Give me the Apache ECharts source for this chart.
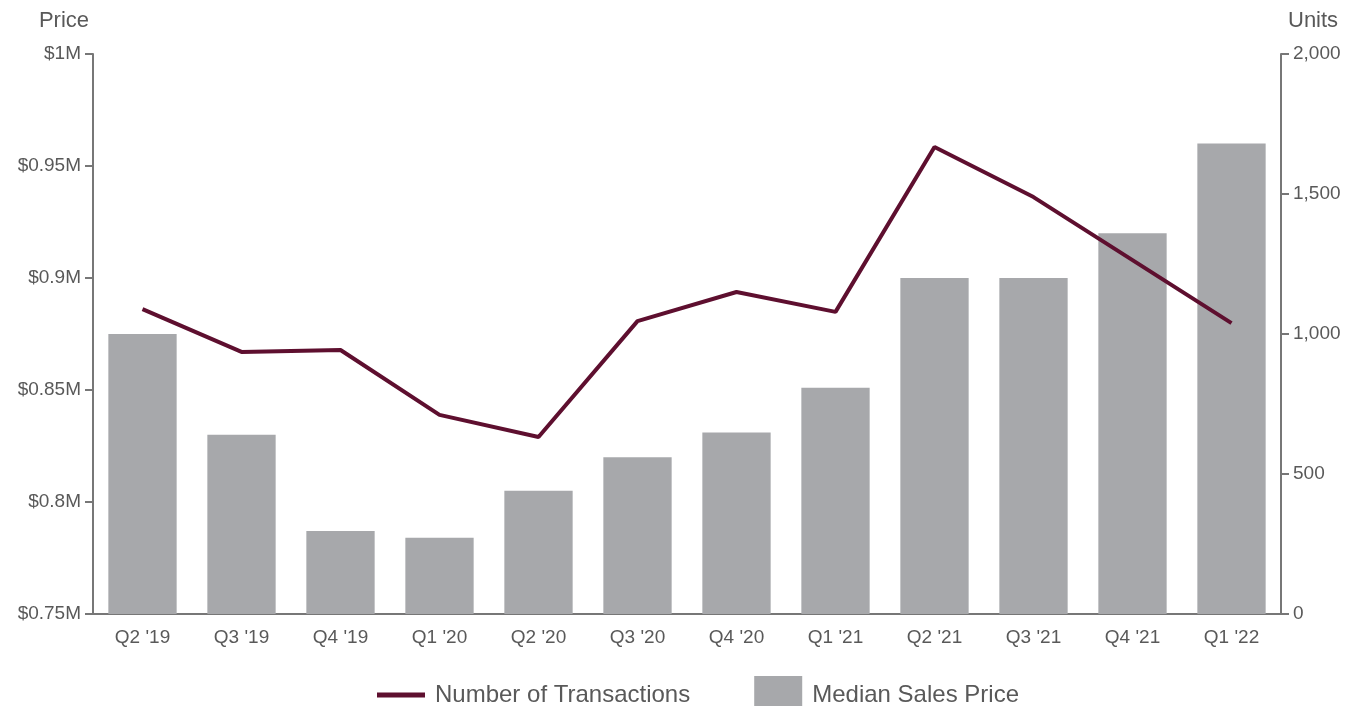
<!DOCTYPE html>
<html>
<head>
<meta charset="utf-8">
<script src="https://cdn.jsdelivr.net/npm/echarts@6/dist/echarts.min.js"></script>
<style>
  html, body { margin: 0; padding: 0; background: #fff; }
  #chart { width: 1353px; height: 706px; }
</style>
</head>
<body>
<div id="chart"></div>
<script>
// quarters along the x axis
const quarters = ["Q2 '19", "Q3 '19", "Q4 '19", "Q1 '20", "Q2 '20", "Q3 '20",
  "Q4 '20", "Q1 '21", "Q2 '21", "Q3 '21", "Q4 '21", "Q1 '22"];
// median sales price, in $M
const medianPrice = [0.875, 0.830, 0.787, 0.784, 0.805, 0.820, 0.831, 0.851, 0.900, 0.900, 0.920, 0.960];
// number of transactions (units)
const transactions = [1089, 936, 943, 711, 632, 1046, 1150, 1079, 1668, 1489, 1264, 1039];

const textColor = "#595959";
const axisColor = "#777777";
const lineColor = "#5e0f2f";

let myChart = echarts.init(document.getElementById("chart"));
let option = {
  animation: false,
  textStyle: { fontFamily: "Liberation Sans, Arial, sans-serif" },
  grid: { left: 93, right: 72, top: 54, bottom: 92 },
  legend: {
    top: 671,
    left: 372,
    itemGap: 64,
    itemWidth: 48,
    itemHeight: 38,
    textStyle: { color: textColor, fontSize: 24, padding: [0, 0, 0, 5] },
    data: [
      { name: "Number of Transactions", icon: "path://M0,0 H48 V5 H0 Z", itemStyle: { color: lineColor } },
      { name: "Median Sales Price", icon: "rect" }
    ]
  },
  xAxis: {
    type: "category",
    data: quarters,
    axisLine: { lineStyle: { color: axisColor, width: 2 } },
    axisTick: { alignWithLabel: true, length: 8, lineStyle: { color: axisColor, width: 2 } },
    axisLabel: { color: textColor, fontSize: 19, margin: 14 }
  },
  yAxis: [
    {
      type: "value",
      name: "Price",
      nameLocation: "end",
      nameGap: 22,
      nameTextStyle: { color: textColor, fontSize: 22, align: "right", padding: [0, 4, 0, 0] },
      min: 0.75,
      max: 1,
      interval: 0.05,
      splitLine: { show: false },
      axisLine: { show: true, lineStyle: { color: axisColor, width: 2 } },
      axisTick: { show: true, length: 8, lineStyle: { color: axisColor, width: 2 } },
      axisLabel: {
        color: textColor, fontSize: 19, margin: 12,
        formatter: v => "$" + parseFloat(v.toFixed(2)) + "M"
      }
    },
    {
      type: "value",
      name: "Units",
      nameLocation: "end",
      nameGap: 22,
      nameTextStyle: { color: textColor, fontSize: 22, align: "left", padding: [0, 0, 0, 7] },
      min: 0,
      max: 2000,
      interval: 500,
      splitLine: { show: false },
      axisLine: { show: true, lineStyle: { color: axisColor, width: 2 } },
      axisTick: { show: true, length: 8, lineStyle: { color: axisColor, width: 2 } },
      axisLabel: {
        color: textColor, fontSize: 19, margin: 12,
        formatter: v => v.toLocaleString("en-US")
      }
    }
  ],
  series: [
    {
      name: "Median Sales Price",
      type: "bar",
      yAxisIndex: 0,
      barWidth: "69%",
      itemStyle: { color: "#a7a8ab" },
      data: medianPrice
    },
    {
      name: "Number of Transactions",
      type: "line",
      yAxisIndex: 1,
      symbol: "none",
      lineStyle: { color: lineColor, width: 4 },
      itemStyle: { color: lineColor },
      data: transactions
    }
  ]
};
myChart.setOption(option);
</script>
</body>
</html>
